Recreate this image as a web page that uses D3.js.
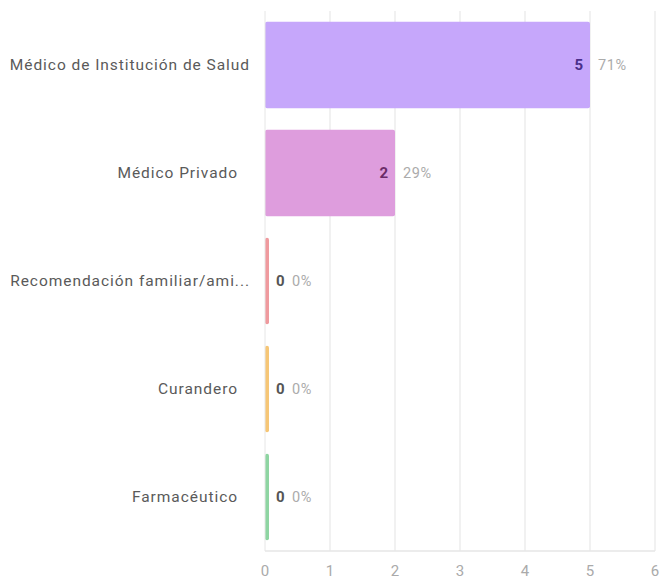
<!DOCTYPE html>
<html lang="es">
<head>
<meta charset="UTF-8">
<title>Respuestas</title>
<script src="https://d3js.org/d3.v7.min.js"></script>
<style>
  body { margin: 0; background: #fff; }
  text { font-family: Roboto, "Noto Sans", Arial, sans-serif; }
</style>
</head>
<body>
<div id="chart"></div>
<script>
// data
const categories = [
  "Médico de Institución de Salud",
  "Médico Privado",
  "Recomendación familiar/amigos",
  "Curandero",
  "Farmacéutico"
];
const counts = [5, 2, 0, 0, 0];
const percents = ["71%", "29%", "0%", "0%", "0%"];
const xTicks = [0, 1, 2, 3, 4, 5, 6];
const barColors = ["#c6a7fb", "#de9ddd", "#ef9a9e", "#f6c676", "#8ed5a2"];
const valueColors = ["#4a2f8a", "#6b2b68", "#555", "#555", "#555"];

const width = 661, height = 582;
const margin = { top: 11, right: 6, bottom: 31, left: 265 };

const svg = d3.select("#chart").append("svg")
  .attr("width", width).attr("height", height);

const x = d3.scaleLinear().domain([0, 6]).range([margin.left, width - margin.right]);
const y = d3.scaleBand().domain(categories)
  .range([margin.top, height - margin.bottom]).paddingInner(0.2).paddingOuter(0.1);

// grid
svg.append("g").selectAll("line").data(xTicks.slice(1)).join("line")
  .attr("x1", d => x(d)).attr("x2", d => x(d))
  .attr("y1", margin.top).attr("y2", height - margin.bottom)
  .attr("stroke", "#ececec").attr("stroke-width", 1.5);

// baseline
svg.append("line")
  .attr("x1", x(0)).attr("x2", x(6))
  .attr("y1", height - margin.bottom).attr("y2", height - margin.bottom)
  .attr("stroke", "#e6e6e6").attr("stroke-width", 1.5);

// x tick labels
svg.append("g").selectAll("text").data(xTicks).join("text")
  .attr("x", d => x(d)).attr("y", height - 6)
  .attr("text-anchor", "middle")
  .attr("font-size", 15).attr("fill", "#aaa")
  .text(d => d);

// bars
svg.append("g").selectAll("rect").data(categories).join("rect")
  .attr("x", x(0))
  .attr("y", d => y(d))
  .attr("width", (d, i) => Math.max(x(counts[i]) - x(0), 4))
  .attr("height", y.bandwidth())
  .attr("rx", 2)
  .attr("fill", (d, i) => barColors[i]);

// axis line at zero
svg.append("line")
  .attr("x1", x(0)).attr("x2", x(0))
  .attr("y1", margin.top).attr("y2", height - margin.bottom)
  .attr("stroke", "#e6e6e6");

// category labels
const labels = svg.append("g").selectAll("text").data(categories).join("text")
  .attr("y", d => y(d) + y.bandwidth() / 2)
  .attr("dy", "0.35em")
  .attr("font-size", 15.5).attr("letter-spacing", 0.95)
  .attr("fill", "#5a5a5a")
  .attr("text-anchor", "end")
  .text(d => d);

labels.each(function (d) {
  const el = d3.select(this);
  let txt = d;
  const maxW = 242;
  if (this.getComputedTextLength() > maxW) {
    while (txt.length > 1) {
      txt = txt.slice(0, -1);
      el.text(txt.trimEnd() + "...");
      if (this.getComputedTextLength() <= maxW) break;
    }
  }
  const w = this.getComputedTextLength();
  el.attr("x", w > 225 ? 250 : 238);
});

// value labels
categories.forEach((c, i) => {
  const cy = y(c) + y.bandwidth() / 2;
  const end = x(counts[i]);
  const inside = counts[i] > 0;
  svg.append("text")
    .attr("x", inside ? end - 7 : end + 11)
    .attr("y", cy).attr("dy", "0.35em")
    .attr("text-anchor", inside ? "end" : "start")
    .attr("font-size", 15).attr("font-weight", "bold")
    .attr("fill", valueColors[i])
    .text(counts[i]);
  svg.append("text")
    .attr("x", inside ? end + 8 : end + 27)
    .attr("y", cy).attr("dy", "0.35em")
    .attr("font-size", 14.5).attr("letter-spacing", 0.6)
    .attr("fill", "#ababab")
    .text(percents[i]);
});
</script>
</body>
</html>
